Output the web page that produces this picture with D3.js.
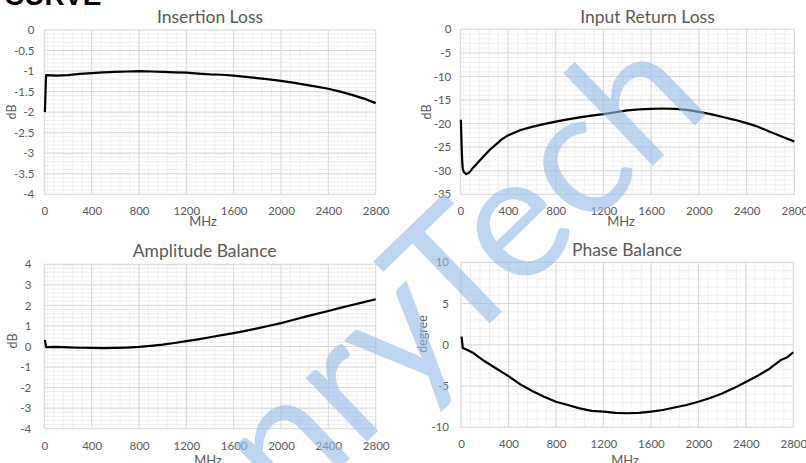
<!DOCTYPE html>
<html>
<head>
<meta charset="utf-8">
<script src="https://cdn.jsdelivr.net/npm/d3@7"></script>
<style>
  body { margin: 0; background: #fff; }
  text { font-family: Lato, "Open Sans", sans-serif; fill: #595959; }
</style>
</head>
<body>
<div id="chart"></div>
<script>
// frequency ticks shared by the four plots (MHz)
var freqTicks = [0, 400, 800, 1200, 1600, 2000, 2400, 2800];

// Insertion Loss (dB)
var ilFreq = [5, 15, 100, 200, 300, 400, 500, 600, 700, 800, 900, 1000, 1100, 1200, 1300, 1400,
              1500, 1600, 1700, 1800, 1900, 2000, 2100, 2200, 2300, 2400, 2500, 2600, 2700, 2800];
var ilDb = [-2.0, -1.1, -1.11, -1.10, -1.07, -1.05, -1.03, -1.02, -1.01, -1.00, -1.01, -1.02, -1.03, -1.04, -1.06, -1.08,
            -1.09, -1.11, -1.14, -1.17, -1.20, -1.24, -1.28, -1.33, -1.38, -1.43, -1.50, -1.58, -1.67, -1.78];
var ilTicks = [0, -0.5, -1, -1.5, -2, -2.5, -3, -3.5, -4];

// Input Return Loss (dB)
var rlFreq = [5, 10, 15, 20, 30, 50, 75, 100, 150, 200, 250, 300, 350, 400, 500, 600, 700, 800, 900, 1000,
              1100, 1200, 1300, 1400, 1500, 1600, 1700, 1800, 1900, 2000, 2100, 2200, 2300, 2400, 2500, 2600, 2700, 2800];
var rlDb = [-19.2, -24, -27.5, -29.5, -30.3, -30.7, -30.4, -29.6, -28.2, -26.8, -25.5, -24.4, -23.3, -22.5, -21.4, -20.7, -20.1, -19.6, -19.1, -18.7,
            -18.3, -18.0, -17.6, -17.2, -17.0, -16.9, -16.8, -16.9, -17.1, -17.5, -18.0, -18.6, -19.2, -19.9, -20.7, -21.8, -22.8, -23.8];
var rlTicks = [0, -5, -10, -15, -20, -25, -30, -35];

// Amplitude Balance (dB)
var abFreq = [5, 15, 100, 200, 300, 400, 500, 600, 700, 800, 900, 1000, 1100, 1200, 1300, 1400,
              1500, 1600, 1700, 1800, 1900, 2000, 2100, 2200, 2300, 2400, 2500, 2600, 2700, 2800];
var abDb = [0.32, -0.03, -0.02, -0.04, -0.06, -0.07, -0.08, -0.07, -0.05, -0.02, 0.03, 0.09, 0.17, 0.26, 0.35, 0.45,
            0.55, 0.65, 0.76, 0.88, 1.01, 1.14, 1.29, 1.44, 1.59, 1.73, 1.88, 2.02, 2.16, 2.30];
var abTicks = [4, 3, 2, 1, 0, -1, -2, -3, -4];

// Phase Balance (degree)
var pbFreq = [5, 15, 50, 100, 150, 200, 300, 400, 500, 600, 700, 800, 900, 1000, 1100, 1200, 1300, 1400,
              1500, 1600, 1700, 1800, 1900, 2000, 2100, 2200, 2300, 2400, 2500, 2600, 2700, 2750, 2800];
var pbDeg = [1.0, -0.4, -0.6, -0.95, -1.5, -2.0, -2.9, -3.8, -4.8, -5.6, -6.3, -6.9, -7.3, -7.7, -8.0, -8.1, -8.25, -8.3,
             -8.25, -8.1, -7.9, -7.6, -7.3, -6.9, -6.45, -5.9, -5.25, -4.5, -3.75, -2.9, -1.8, -1.5, -0.9];
var pbTicks = [10, 5, 0, -5, -10];

var W = 806, H = 463;

var panels = [
  { title: "Insertion Loss", yLabel: "dB", freq: ilFreq, vals: ilDb, yTicks: ilTicks,
    box: [44.3, 375.7, 30, 194.3], titleAt: [210, 23.3], mhzAt: [203, 225.5], yLabAt: [12, 112], gap: 10 },
  { title: "Input Return Loss", yLabel: "dB", freq: rlFreq, vals: rlDb, yTicks: rlTicks,
    box: [460.3, 794.3, 29.3, 194.3], titleAt: [647.5, 22.7], mhzAt: [621, 225.5], yLabAt: [427, 112], gap: 9 },
  { title: "Amplitude Balance", yLabel: "dB", freq: abFreq, vals: abDb, yTicks: abTicks,
    box: [44.3, 375.7, 264.3, 428.7], titleAt: [204.7, 256.7], mhzAt: [208, 465], yLabAt: [12.5, 341], gap: 13 },
  { title: "Phase Balance", yLabel: "degree", freq: pbFreq, vals: pbDeg, yTicks: pbTicks,
    box: [461, 793.3, 262.3, 427.3], titleAt: [627, 255.7], mhzAt: [625, 465], yLabAt: [423, 334], gap: 12 }
];

var svg = d3.select("#chart").append("svg")
            .attr("width", W)
            .attr("height", H);

svg.append("rect").attr("width", W).attr("height", H).attr("fill", "#fff");

svg.append("text")
   .attr("x", 4)
   .attr("y", 5)
   .style("font-family", "'Liberation Sans', Arial, sans-serif")
   .style("font-weight", "bold")
   .style("font-size", "28px")
   .style("fill", "#000")
   .text("CURVE");

function drawPanel(p) {

    var x = d3.scaleLinear()
              .domain([0, 2800])
              .range([p.box[0], p.box[1]]);

    var y = d3.scaleLinear()
              .domain(d3.extent(p.yTicks))
              .range([p.box[3], p.box[2]]);

    var g = svg.append("g").attr("class", "panel");

    // minor grid: 5 divisions between major lines
    var yStep = Math.abs(p.yTicks[0] - p.yTicks[1]);
    var yMin = d3.min(p.yTicks), yMax = d3.max(p.yTicks);
    var minorY = d3.range(0, Math.round((yMax - yMin) / yStep * 5) + 1).map(function(i) { return yMin + i * yStep / 5; });
    var minorX = d3.range(0, 36).map(function(i) { return i * 80; });

    g.append("g").selectAll("line")
     .data(minorX).enter().append("line")
     .attr("x1", x).attr("x2", x)
     .attr("y1", p.box[2]).attr("y2", p.box[3])
     .attr("stroke", "#eeeeee").attr("stroke-width", 1);

    g.append("g").selectAll("line")
     .data(minorY).enter().append("line")
     .attr("x1", p.box[0]).attr("x2", p.box[1])
     .attr("y1", y).attr("y2", y)
     .attr("stroke", "#eeeeee").attr("stroke-width", 1);

    // major grid
    g.append("g").selectAll("line")
     .data(freqTicks).enter().append("line")
     .attr("x1", x).attr("x2", x)
     .attr("y1", p.box[2]).attr("y2", p.box[3])
     .attr("stroke", "#d9d9d9").attr("stroke-width", 1);

    g.append("g").selectAll("line")
     .data(p.yTicks).enter().append("line")
     .attr("x1", p.box[0]).attr("x2", p.box[1])
     .attr("y1", y).attr("y2", y)
     .attr("stroke", "#d9d9d9").attr("stroke-width", 1);

    // axes (labels only)
    var xAxis = g.append("g")
                 .attr("transform", "translate(0," + p.box[3] + ")")
                 .call(d3.axisBottom(x).tickValues(freqTicks).tickSize(0).tickPadding(13).tickFormat(function(d) { return String(d); }));

    var yAxis = g.append("g")
                 .attr("transform", "translate(" + p.box[0] + ",0)")
                 .call(d3.axisLeft(y).tickValues(p.yTicks).tickSize(0).tickPadding(p.gap).tickFormat(function(d) { return String(d); }));

    [xAxis, yAxis].forEach(function(a) {
        a.select(".domain").remove();
        a.selectAll("text")
         .style("font-family", "Lato, 'Open Sans', sans-serif")
         .style("font-size", "11.5px")
         .attr("fill", "#595959");
    });

    g.append("text")
     .attr("x", p.titleAt[0]).attr("y", p.titleAt[1])
     .attr("text-anchor", "middle")
     .style("font-size", "17.5px")
     .text(p.title);

    g.append("text")
     .attr("x", p.mhzAt[0]).attr("y", p.mhzAt[1])
     .attr("text-anchor", "middle")
     .style("font-size", "13px")
     .text("MHz");

    g.append("text")
     .attr("transform", "translate(" + p.yLabAt[0] + "," + p.yLabAt[1] + ") rotate(-90)")
     .attr("text-anchor", "middle")
     .attr("dy", "0.35em")
     .style("font-size", "12.5px")
     .text(p.yLabel);

    var line = d3.line()
                 .x(function(d, i) { return x(p.freq[i]); })
                 .y(function(d) { return y(d); });

    g.append("path")
     .datum(p.vals)
     .attr("class", "curve")
     .attr("d", line)
     .attr("fill", "none")
     .attr("stroke", "#000")
     .attr("stroke-width", 2.2)
     .attr("stroke-linejoin", "round");
}

panels.forEach(drawPanel);

// watermark above the grid, below the curves
svg.append("text")
   .attr("transform", "translate(288,518) rotate(-44)")
   .style("font-family", "Lato, 'Open Sans', sans-serif")
   .style("font-weight", 400)
   .style("font-size", "175px")
   .style("fill", "rgb(150,188,232)")
   .style("opacity", 0.62)
   .text("nryTech");

svg.selectAll(".curve").raise();
</script>
</body>
</html>
